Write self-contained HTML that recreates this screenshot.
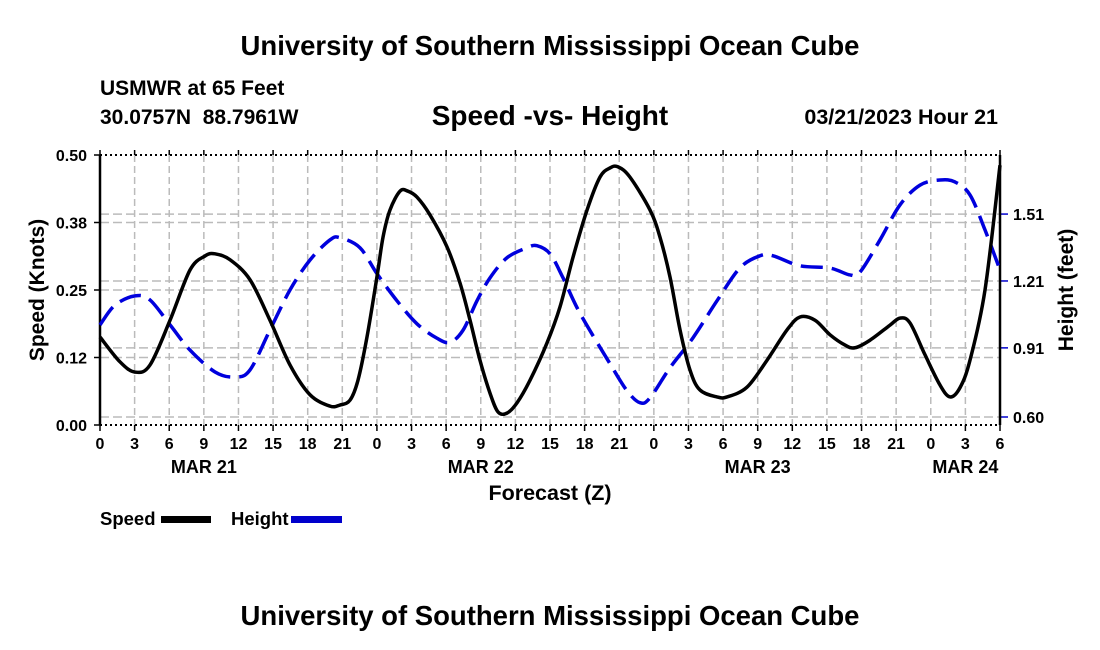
<!DOCTYPE html>
<html><head><meta charset="utf-8"><style>
body{margin:0;background:#fff;}
svg{display:block;font-family:"Liberation Sans",sans-serif;font-weight:bold;}
</style></head><body>
<svg id="chart" width="1100" height="650" viewBox="0 0 1100 650">
<text x="550" y="55" text-anchor="middle" font-size="27.5">University of Southern Mississippi Ocean Cube</text>
<text x="100" y="95" font-size="21">USMWR at 65 Feet</text>
<text x="100" y="124" font-size="21" xml:space="preserve">30.0757N  88.7961W</text>
<text x="550" y="125" text-anchor="middle" font-size="28">Speed -vs- Height</text>
<text x="998" y="124" text-anchor="end" font-size="21.5">03/21/2023 Hour 21</text>
<g id="grid"></g><g id="axes"></g><g id="series"></g>
<text x="550" y="500" text-anchor="middle" font-size="21.5">Forecast (Z)</text>
<text transform="translate(44,290) rotate(-90)" text-anchor="middle" font-size="21">Speed (Knots)</text>
<text transform="translate(1073,290) rotate(-90)" text-anchor="middle" font-size="21">Height (feet)</text>
<g>
<text x="100" y="525" font-size="18.5">Speed</text>
<rect x="161" y="516" width="50" height="7" fill="#000"/>
<text x="231" y="525" font-size="18.5">Height</text>
<rect x="291" y="516" width="51" height="7" fill="#0000cc"/>
</g>
<text x="550" y="625" text-anchor="middle" font-size="27.5">University of Southern Mississippi Ocean Cube</text>
</svg>
<script>
const speedHours=[0,1.73,3.03,4.33,6.07,7.8,9.1,9.97,11.27,13,14.73,16.47,18.2,19.93,20.8,21.67,22.36,23.14,24.0,24.53,25.13,26.0,26.69,27.47,28.6,30.07,31.2,32.07,32.93,33.8,34.5,35.27,36.14,37.27,38.74,39.87,41.0,42.21,43.33,44.2,44.9,45.93,47.67,48.53,49.4,50.27,51.13,51.99,53.47,54.34,56.07,57.81,59.54,60.67,61.97,63.27,64.57,65.43,66.73,68.47,69.33,70.2,71.5,72.8,73.67,74.53,75.4,76.7,78];
const speedValues=[0.163,0.117,0.098,0.111,0.194,0.287,0.313,0.317,0.306,0.269,0.194,0.111,0.056,0.035,0.037,0.046,0.083,0.163,0.274,0.348,0.398,0.433,0.433,0.422,0.389,0.33,0.263,0.194,0.12,0.059,0.024,0.022,0.041,0.083,0.152,0.219,0.311,0.398,0.459,0.476,0.478,0.459,0.398,0.348,0.274,0.176,0.102,0.065,0.052,0.052,0.07,0.12,0.176,0.2,0.194,0.167,0.148,0.143,0.157,0.185,0.198,0.189,0.13,0.074,0.052,0.069,0.12,0.25,0.481];
const heightHours=[0,1.3,3.03,4.33,6.07,7.8,9.97,11.7,13,14.73,16.47,18.2,19.93,20.8,22.53,24.0,25.74,27.47,29.21,30.33,31.46,32.67,33.8,35.27,37.0,37.87,39.0,40.13,41.6,44.2,45.67,46.8,47.67,49.4,51.39,53.47,55.47,57.2,58.33,60.67,63.27,65,65.87,67.6,69.33,71.07,72.8,74.1,75.4,76.7,78];
const heightValues=[1.013,1.102,1.143,1.125,1.013,0.9,0.802,0.779,0.811,0.99,1.17,1.304,1.394,1.404,1.359,1.243,1.121,1.018,0.953,0.935,0.989,1.121,1.224,1.314,1.359,1.368,1.332,1.224,1.065,0.839,0.718,0.664,0.686,0.821,0.955,1.121,1.269,1.323,1.323,1.278,1.268,1.237,1.25,1.394,1.551,1.64,1.663,1.654,1.596,1.439,1.259];
const leftTicks=[0,0.125,0.25,0.375,0.5];
const leftTickLabels=["0.00","0.12","0.25","0.38","0.50"];
const rightTicks=[0.60,0.91,1.21,1.51];
const xTickLabels=["0","3","6","9","12","15","18","21","0","3","6","9","12","15","18","21","0","3","6","9","12","15","18","21","0","3","6"];
const dayLabels=["MAR 21","MAR 22","MAR 23","MAR 24"];
const dayLabelHours=[9,33,57,75];

const X0=100,X1=1000,YT=155,YB=425,HMAX=78;
const xS=h=>X0+h/HMAX*(X1-X0);
const yL=v=>YB-v/0.5*(YB-YT);
const yR=f=>417-(f-0.60)*223;
const NS="http://www.w3.org/2000/svg";
function mk(parent,tag,attrs){const e=document.createElementNS(NS,tag);for(const k in attrs)e.setAttribute(k,attrs[k]);parent.appendChild(e);return e;}
const gridG=document.getElementById('grid'),axesG=document.getElementById('axes'),seriesG=document.getElementById('series');
xTickLabels.forEach((t,i)=>{const x=xS(i*3);
 if(i>0&&i<xTickLabels.length-1){const l=mk(gridG,'line',{x1:x,y1:YT,x2:x,y2:YB,stroke:'#bbb','stroke-width':1.5,'stroke-dasharray':'7,4'});
 
 }
 const tk=mk(axesG,'line',{x1:x,y1:YB,x2:x,y2:YB+6,stroke:'#000','stroke-width':1.5});
 
 
 const tt=mk(axesG,'line',{x1:x,y1:YT,x2:x,y2:YT-5,stroke:'#000','stroke-width':1.5});
 
 
 const tx=mk(axesG,'text',{x:x,y:449,'text-anchor':'middle','font-size':16});tx.textContent=t;
 
 });
dayLabels.forEach((d,i)=>{const tx=mk(axesG,'text',{x:xS(dayLabelHours[i]),y:473,'text-anchor':'middle','font-size':18});tx.textContent=d;
 
 });
leftTicks.forEach((v,i)=>{const y=yL(v);
 if(i>0&&i<leftTicks.length-1){const l=mk(gridG,'line',{x1:X0,y1:y,x2:X1,y2:y,stroke:'#bbb','stroke-width':1.5,'stroke-dasharray':'9,4'});
 
 }
 const tk=mk(axesG,'line',{x1:X0-6,y1:y,x2:X0,y2:y,stroke:'#000','stroke-width':1.5});
 
 
 const tx=mk(axesG,'text',{x:87,y:y+6,'text-anchor':'end','font-size':16});tx.textContent=leftTickLabels[i];
 
 });
rightTicks.forEach(f=>{const y=yR(f);
 const l=mk(gridG,'line',{x1:X0,y1:y,x2:X1,y2:y,stroke:'#bbb','stroke-width':1.5,'stroke-dasharray':'9,4'});
 
 
 const tk=mk(axesG,'line',{x1:X1,y1:y,x2:X1+8,y2:y,stroke:'#0000cc','stroke-width':1.5});
 
 
 const tx=mk(axesG,'text',{x:1013,y:y+6,'font-size':16});tx.textContent=f.toFixed(2);
 
 });
const topAxis=mk(axesG,'line',{x1:X0,y1:YT,x2:X1,y2:YT,stroke:'#000','stroke-width':2,'stroke-dasharray':'2,3'});


const botAxis=mk(axesG,'line',{x1:X0,y1:YB,x2:X1,y2:YB,stroke:'#000','stroke-width':2,'stroke-dasharray':'2,3'});


const leftAxis=mk(axesG,'line',{x1:X0,y1:YT,x2:X0,y2:YB,stroke:'#000','stroke-width':2.5});


const rightAxis=mk(axesG,'line',{x1:X1,y1:YT,x2:X1,y2:YB,stroke:'#000','stroke-width':2.5});


function smooth(pts){let d=`M${pts[0][0]},${pts[0][1]}`;
 for(let i=0;i<pts.length-1;i++){const p0=pts[Math.max(0,i-1)],p1=pts[i],p2=pts[i+1],p3=pts[Math.min(pts.length-1,i+2)];
 d+=` C${p1[0]+(p2[0]-p0[0])/6},${p1[1]+(p2[1]-p0[1])/6} ${p2[0]-(p3[0]-p1[0])/6},${p2[1]-(p3[1]-p1[1])/6} ${p2[0]},${p2[1]}`;}return d;}
const hp=mk(seriesG,'path',{d:smooth(heightHours.map((h,i)=>[xS(h),yR(heightValues[i])])),fill:'none',stroke:'#0000dd','stroke-width':3.5,'stroke-dasharray':'22,9'});


const sp=mk(seriesG,'path',{d:smooth(speedHours.map((h,i)=>[xS(h),yL(speedValues[i])])),fill:'none',stroke:'#000','stroke-width':3.5});


</script>
</body></html>
